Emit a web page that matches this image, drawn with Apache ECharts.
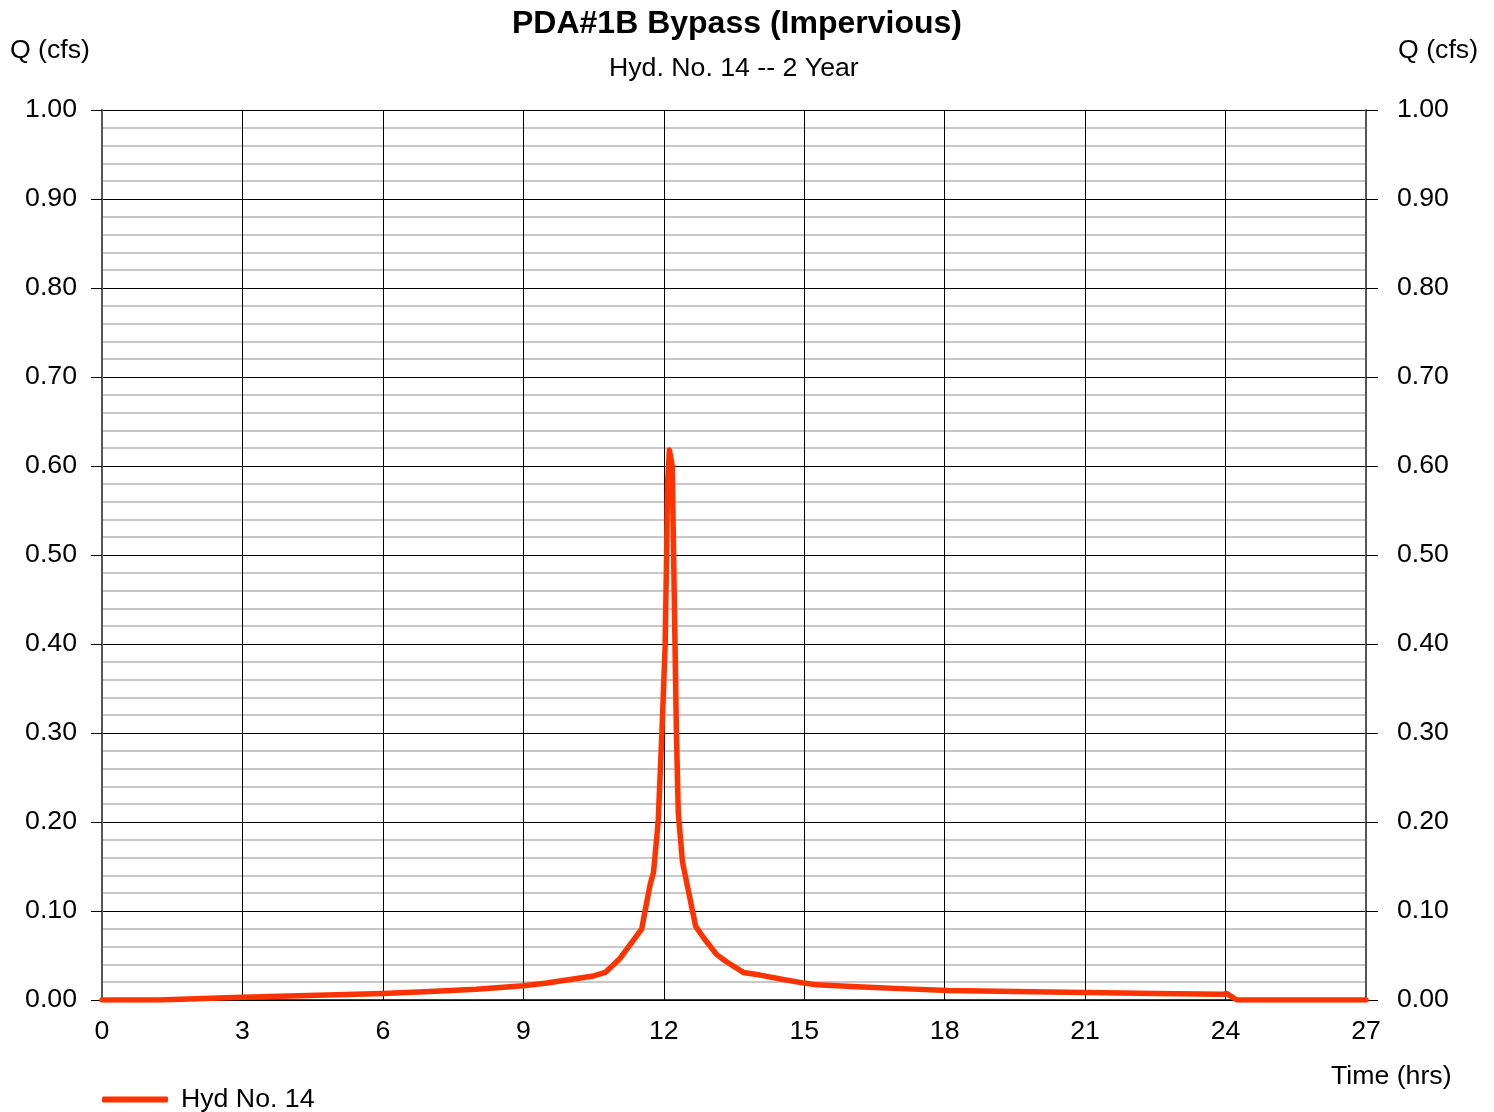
<!DOCTYPE html>
<html>
<head>
<meta charset="utf-8">
<script src="https://cdn.jsdelivr.net/npm/echarts@6/dist/echarts.min.js"></script>
<style>
html,body{margin:0;padding:0;background:#fff;}
#chart{width:1494px;height:1112px;}
</style>
</head>
<body>
<div id="chart"></div>
<script>
var timeHrs = [0, 1.2, 2, 3, 4, 5, 6, 7, 8, 9, 9.5, 10, 10.5, 10.75, 11.07, 11.53, 11.6, 11.71, 11.78, 11.88, 11.96, 12.03, 12.06, 12.08, 12.12, 12.18, 12.24, 12.27, 12.31, 12.4, 12.68, 12.85, 13.13, 13.34, 13.7, 14.06, 14.55, 15.0, 15.27, 16.12, 17.19, 18.08, 19.5, 21.03, 22.5, 23.95, 24.02, 24.24, 27];
var flowCfs = [0, 0, 0.0015, 0.003, 0.0045, 0.006, 0.0072, 0.0095, 0.012, 0.016, 0.019, 0.023, 0.027, 0.031, 0.047, 0.08, 0.10, 0.13, 0.143, 0.20, 0.30, 0.40, 0.50, 0.58, 0.618, 0.60, 0.40, 0.30, 0.21, 0.155, 0.083, 0.07, 0.051, 0.043, 0.031, 0.028, 0.023, 0.019, 0.017, 0.015, 0.0125, 0.0106, 0.0095, 0.0083, 0.0073, 0.0064, 0.0075, 0, 0];
var seriesName = 'Hyd No. 14';
var titleText = 'PDA#1B Bypass (Impervious)';
var subtitleText = 'Hyd. No. 14 -- 2 Year';
var yAxisName = 'Q (cfs)';
var xAxisName = 'Time (hrs)';

var points = timeHrs.map(function (t, i) { return [t, flowCfs[i]]; });
var FONT = 'Liberation Sans, Arial, sans-serif';
var FS = 26.7;

var chart = echarts.init(document.getElementById('chart'));
chart.setOption({
  backgroundColor: '#ffffff',
  animation: false,
  title: [
    { text: titleText, left: 507, top: 3, padding: [5, 5, 5, 5], textStyle: { fontFamily: FONT, fontSize: 32, fontWeight: 'bold', color: '#000' } },
    { text: subtitleText, left: 604, top: 50, padding: [5, 5, 5, 5], textStyle: { fontFamily: FONT, fontSize: FS, fontWeight: 'normal', color: '#000' } }
  ],
  legend: {
    left: 97, top: 1081,
    itemWidth: 66, itemHeight: 6,
    icon: 'roundRect',
    data: [seriesName],
    textStyle: { fontFamily: FONT, fontSize: FS, color: '#000', padding: [0, 0, 0, 8] }
  },
  graphic: [
    { type: 'text', left: 1331, top: 1063, style: { text: xAxisName, fontFamily: FONT, fontSize: FS, fill: '#000' } }
  ],
  grid: { left: 102, right: 128, top: 110, bottom: 112, containLabel: false, outerBoundsMode: 'none' },
  xAxis: {
    type: 'value', min: 0, max: 27, interval: 3,
    axisLine: { show: true, lineStyle: { color: '#000', width: 1.5 } },
    axisTick: { show: false },
    axisLabel: { margin: 18, fontFamily: FONT, fontSize: FS, color: '#000' },
    splitLine: { show: true, lineStyle: { color: '#000', width: 1 } }
  },
  yAxis: [
    {
      type: 'value', min: 0, max: 1, interval: 0.1, position: 'left',
      name: yAxisName, nameLocation: 'end', nameGap: 59,
      nameTextStyle: { fontFamily: FONT, fontSize: FS, color: '#000', align: 'right', verticalAlign: 'middle', padding: [0, 12, 0, 0] },
      axisLine: { show: true, lineStyle: { color: '#555', width: 2 } },
      axisTick: { show: true, inside: false, length: 11, lineStyle: { color: '#000', width: 1 } },
      axisLabel: { margin: 25, fontFamily: FONT, fontSize: FS, color: '#000', formatter: function (v) { return v.toFixed(2); } },
      splitLine: { show: true, lineStyle: { color: '#000', width: 1 } },
      minorTick: { show: false, splitNumber: 5 },
      minorSplitLine: { show: true, lineStyle: { color: '#c8c8c8', width: 2 } }
    },
    {
      type: 'value', min: 0, max: 1, interval: 0.1, position: 'right',
      name: yAxisName, nameLocation: 'end', nameGap: 59,
      nameTextStyle: { fontFamily: FONT, fontSize: FS, color: '#000', align: 'left', verticalAlign: 'middle', padding: [0, 0, 0, 32] },
      axisLine: { show: true, lineStyle: { color: '#555', width: 2 } },
      axisTick: { show: true, inside: false, length: 12, lineStyle: { color: '#000', width: 1 } },
      axisLabel: { margin: 31, fontFamily: FONT, fontSize: FS, color: '#000', formatter: function (v) { return v.toFixed(2); } },
      splitLine: { show: false }
    }
  ],
  series: [{
    name: seriesName, type: 'line', data: points, yAxisIndex: 0,
    symbol: 'none', smooth: false,
    lineStyle: { color: '#ff3300', width: 5.5, cap: 'round', join: 'round' },
    itemStyle: { color: '#ff3300' },
    z: 5
  }]
});
</script>
</body>
</html>
